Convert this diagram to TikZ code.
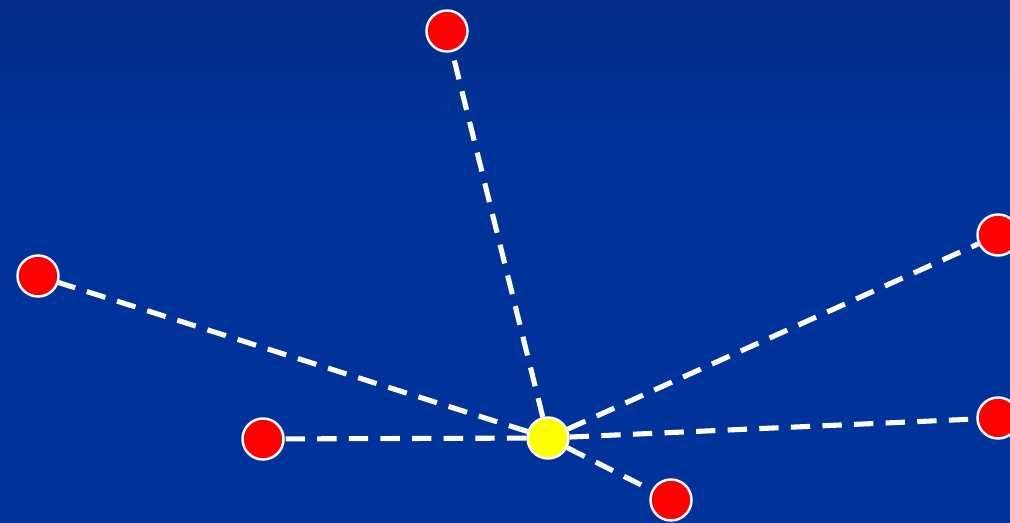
\documentclass[tikz,border=0pt]{standalone}
\usetikzlibrary{positioning}
\definecolor{bgblue}{HTML}{003399}
\definecolor{bgtop}{HTML}{022C88}
\definecolor{hubyellow}{HTML}{FFFF00}
\definecolor{leafred}{HTML}{FF0000}
\tikzset{
  leaf/.style={circle, draw=white, line width=1.4pt, fill=leafred, minimum size=0.82cm, inner sep=0pt},
  hub/.style={circle, draw=white, line width=1.4pt, fill=hubyellow, minimum size=0.82cm, inner sep=0pt},
  link/.style={white, line width=2.9pt, dash pattern=on 11pt off 7pt}
}

\begin{document}
\begin{tikzpicture}[x=0.02cm, y=-0.02cm]
  % ------------------------------------------------------------ background
  \useasboundingbox (0,0) rectangle (1010,523);
  \clip (0,0) rectangle (1010,523);
  \fill[bgblue] (0,0) rectangle (1010,523);
  \shade[top color=bgtop, bottom color=bgblue] (0,0) rectangle (1010,140);
  % ------------------------------------------------------------ nodes
  \node[hub] (c) at (548,438) {};
  \node[leaf] (n1) at (447,31) {};
  \node[leaf] (n2) at (38,276) {};
  \node[leaf] (n3) at (263,439) {};
  \node[leaf] (n4) at (671,500) {};
  \node[leaf] (n5) at (998,235) {};
  \node[leaf] (n6) at (998,418) {};
  % ------------------------------------------------------------ links
  \foreach \n in {n1,n2,n3,n4,n5,n6} {\draw[link] (c) -- (\n);}
\end{tikzpicture}
\end{document}
